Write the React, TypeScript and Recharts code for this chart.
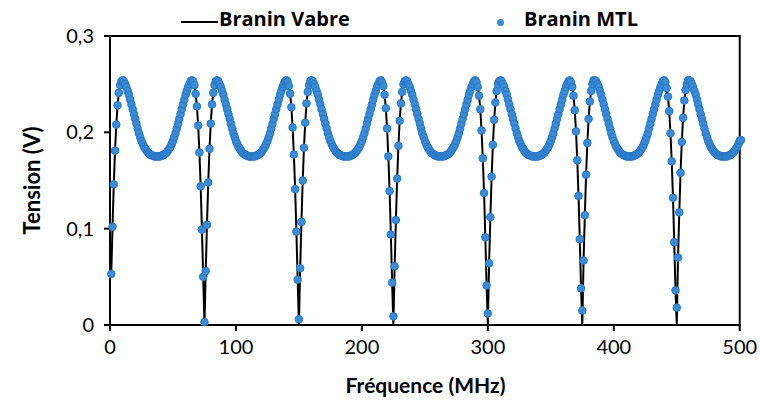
import React from "react";
import { LineChart, Line, XAxis, YAxis, ReferenceArea, Label } from "recharts";

// Tension (mV) lue sur la figure, pas de 1 MHz, de 1 a 500 MHz (une periode ~75 MHz par tableau)
const MTL_P0 = [
  53, 102, 146, 181, 208, 228, 241, 249, 253,
  254, 253, 250, 247, 243, 239, 234, 229, 224, 219, 214, 209, 204, 199, 195, 191, 188, 185, 183, 181,
  179, 178, 177, 176, 176, 175, 175, 175, 175, 175, 175, 176, 176, 177, 178, 179, 181, 183, 185, 188,
  191, 195, 199, 204, 209, 214, 219, 224, 229, 234, 239, 243, 247, 250, 253, 254,
  253, 249, 240, 227, 207, 179, 144, 99, 50, 3,
];
const MTL_P1 = [
  56, 104, 148, 183, 209, 229, 241, 249, 253,
  254, 253, 250, 247, 243, 239, 234, 229, 224, 219, 214, 209, 204, 199, 195, 191, 188, 185, 183, 181,
  179, 178, 177, 176, 176, 175, 175, 175, 175, 175, 175, 176, 176, 177, 178, 179, 181, 183, 185, 188,
  191, 195, 199, 204, 209, 214, 219, 224, 229, 234, 239, 243, 247, 250, 253, 254,
  253, 248, 240, 226, 205, 177, 141, 97, 47, 6,
];
const MTL_P2 = [
  59, 107, 150, 184, 210, 230, 242, 249, 253,
  254, 253, 250, 247, 243, 239, 234, 229, 224, 219, 214, 209, 204, 199, 195, 191, 188, 185, 183, 181,
  179, 178, 177, 176, 176, 175, 175, 175, 175, 175, 175, 176, 176, 177, 178, 179, 181, 183, 185, 188,
  191, 195, 199, 204, 209, 214, 219, 224, 229, 234, 239, 243, 247, 250, 253, 254,
  252, 248, 239, 225, 204, 175, 139, 94, 44, 9,
];
const MTL_P3 = [
  61, 109, 152, 186, 212, 230, 242, 250, 253,
  254, 253, 250, 247, 243, 239, 234, 229, 224, 219, 214, 209, 204, 199, 195, 191, 188, 185, 183, 181,
  179, 178, 177, 176, 176, 175, 175, 175, 175, 175, 175, 176, 176, 177, 178, 179, 181, 183, 185, 188,
  191, 195, 199, 204, 209, 214, 219, 224, 229, 234, 239, 243, 247, 250, 253, 254,
  252, 247, 238, 224, 202, 173, 137, 91, 41, 12,
];
const MTL_P4 = [
  64, 112, 154, 187, 213, 231, 243, 250, 253,
  254, 253, 250, 247, 243, 239, 234, 229, 224, 219, 214, 209, 204, 199, 195, 191, 188, 185, 183, 181,
  179, 178, 177, 176, 176, 175, 175, 175, 175, 175, 175, 176, 176, 177, 178, 179, 181, 183, 185, 188,
  191, 195, 199, 204, 209, 214, 219, 224, 229, 234, 239, 243, 247, 250, 253, 254,
  252, 247, 238, 223, 201, 171, 134, 89, 38, 15,
];
const MTL_P5 = [
  67, 114, 156, 189, 214, 232, 243, 250, 254,
  254, 253, 250, 247, 243, 239, 234, 229, 224, 219, 214, 209, 204, 199, 195, 191, 188, 185, 183, 181,
  179, 178, 177, 176, 176, 175, 175, 175, 175, 175, 175, 176, 176, 177, 178, 179, 181, 183, 185, 188,
  191, 195, 199, 204, 209, 214, 219, 224, 229, 234, 239, 243, 247, 250, 253, 254,
  252, 246, 237, 222, 199, 170, 132, 86, 36, 18,
];
const MTL_P6 = [
  70, 117, 158, 190, 215, 233, 244, 250, 254,
  254, 253, 250, 247, 243, 239, 234, 229, 224, 219, 214, 209, 204, 199, 195, 191, 188, 185, 183, 181,
  179, 178, 177, 176, 176, 175, 175, 175, 175, 175, 175, 176, 176, 177, 178, 179, 181, 183, 185, 188,
  191, 192,
];

const FREQ_START_MHZ = 1;
const FREQ_STEP_MHZ = 1;

// Branin Vabre : meme courbe, mais descend jusqu'a 0 aux creux
const VABRE_DIP_MHZ = [75, 150, 225, 300, 375, 450];
const VABRE_DIP_MV = [0, 0, 0, 0, 0, 0];

const X_TICKS = [0, 100, 200, 300, 400, 500];
const Y_TICKS = [0, 0.1, 0.2, 0.3];

const FONT = "Lato, 'Open Sans', sans-serif";
const LEGEND_FONT = "'Open Sans', Lato, sans-serif";
const BLUE = "#3A8CD8";
const BLUE_EDGE = "#2776C4";

const mtlMv = [...MTL_P0, ...MTL_P1, ...MTL_P2, ...MTL_P3, ...MTL_P4, ...MTL_P5, ...MTL_P6];

const rows = mtlMv.map((mv, i) => {
  const f = FREQ_START_MHZ + i * FREQ_STEP_MHZ;
  const d = VABRE_DIP_MHZ.indexOf(f);
  return { f, mtl: mv / 1000, vabre: (d >= 0 ? VABRE_DIP_MV[d] : mv) / 1000 };
});

const fmtY = (v: number) => (v === 0 ? "0" : v.toFixed(1).replace(".", ","));

export default function App() {
  return (
    <div style={{ position: "absolute", left: 0, top: 0, width: 760, height: 403, background: "#fff", fontFamily: FONT }}>
      {/* Legend */}
      <div style={{ position: "absolute", left: 181, top: 21, width: 37, height: 2, background: "#000" }} />
      <div style={{ position: "absolute", left: 219, top: 5, fontSize: 20, fontWeight: 700, color: "#000", fontFamily: LEGEND_FONT }}>Branin Vabre</div>
      <div style={{ position: "absolute", left: 497, top: 19, width: 7, height: 7, borderRadius: "50%", background: BLUE }} />
      <div style={{ position: "absolute", left: 524, top: 5, fontSize: 20, fontWeight: 700, color: "#000", fontFamily: LEGEND_FONT }}>Branin MTL</div>

      <LineChart width={760} height={403} data={rows} margin={{ top: 36, right: 19, bottom: 0, left: 0 }}>
        <XAxis
          dataKey="f"
          type="number"
          domain={[0, 500]}
          ticks={X_TICKS}
          interval={0}
          height={78}
          tickSize={6}
          tickMargin={9}
          axisLine={{ stroke: "#000", strokeWidth: 2 }}
          tickLine={{ stroke: "#000", strokeWidth: 2 }}
          tick={{ fontSize: 20, fill: "#000", fontFamily: FONT }}
        >
          <Label
            content={({ viewBox }: any) => (
              <text x={viewBox.x + viewBox.width / 2} y={viewBox.y + 68} textAnchor="middle"
                fontSize={21} fontWeight={700} fontFamily={FONT} fill="#000">
                Fréquence (MHz)
              </text>
            )}
          />
        </XAxis>
        <YAxis
          type="number"
          domain={[0, 0.3]}
          ticks={Y_TICKS}
          interval={0}
          width={110}
          tickSize={6}
          tickMargin={10}
          tickFormatter={fmtY}
          axisLine={{ stroke: "#000", strokeWidth: 2 }}
          tickLine={{ stroke: "#000", strokeWidth: 2 }}
          tick={{ fontSize: 20, fill: "#000", fontFamily: FONT }}
        >
          <Label
            content={({ viewBox }: any) => {
              const cx = 31;
              const cy = viewBox.y + viewBox.height / 2;
              return (
                <text x={cx} y={cy} transform={`rotate(-90 ${cx} ${cy})`} textAnchor="middle"
                  dominantBaseline="central" fontSize={22} fontWeight={700} fontFamily={FONT} fill="#000">
                  Tension (V)
                </text>
              );
            }}
          />
        </YAxis>
        <ReferenceArea x1={0} x2={500} y1={0} y2={0.3} fill="none" stroke="#000" strokeWidth={2} ifOverflow="visible" />
        <Line
          dataKey="vabre"
          type="linear"
          stroke="#000"
          strokeWidth={2}
          dot={false}
          activeDot={false}
          isAnimationActive={false}
        />
        <Line
          dataKey="mtl"
          type="linear"
          stroke="none"
          dot={{ r: 3.8, fill: BLUE, stroke: BLUE_EDGE, strokeWidth: 1 }}
          activeDot={false}
          isAnimationActive={false}
        />
      </LineChart>
    </div>
  );
}
